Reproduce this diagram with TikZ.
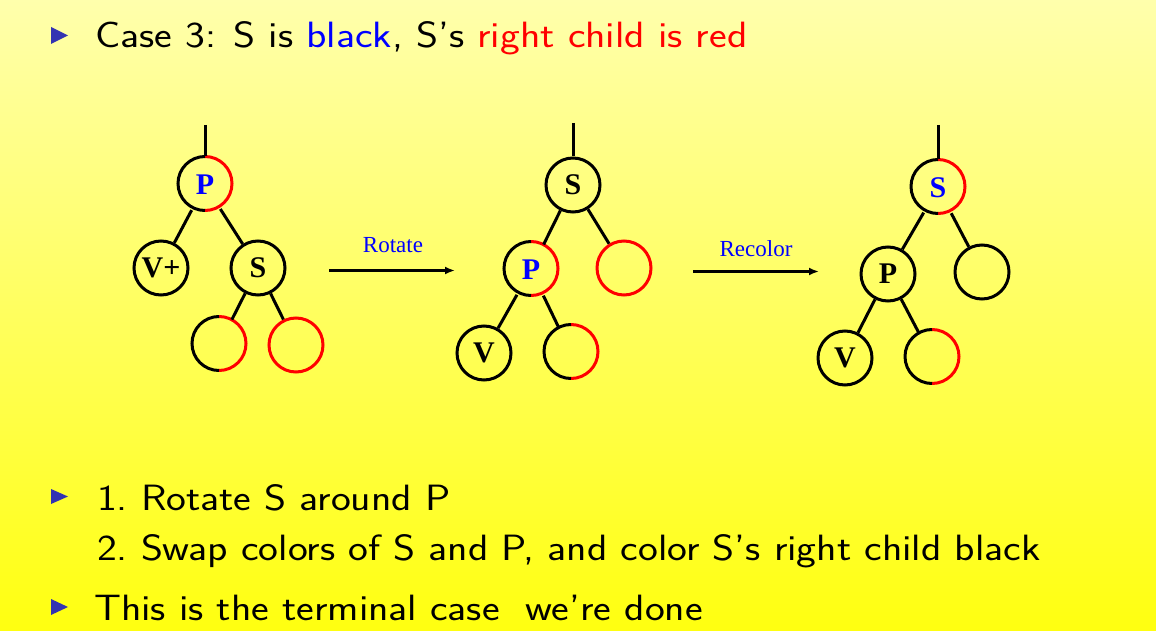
\documentclass[tikz,border=0pt]{standalone}
\usepackage{fontspec}
\usetikzlibrary{arrows.meta}
\newfontfamily\treefont{Liberation Serif}
\definecolor{bulletblue}{RGB}{51,51,178}
\definecolor{bgtop}{RGB}{255,255,172}
\definecolor{bgbottom}{RGB}{255,255,16}
\begin{document}
\begin{tikzpicture}[x=1pt,y=1pt,
  vtx/.style={circle,minimum size=54pt,inner sep=0pt,outer sep=1.5pt,line width=3pt,
    font=\treefont\fontsize{30}{30}\selectfont\bfseries},
  blk/.style={vtx,draw=black},
  rd/.style={vtx,draw=red},
  half/.style={vtx,draw=none},
  edge/.style={line width=3pt},
  step arrow/.style={line width=2.2pt,-{Latex[length=10pt,width=8pt]}},
  steplabel/.style={text=blue,font=\treefont\fontsize{23}{23}\selectfont,anchor=base},
  body/.style={anchor=base west,xscale=1.15,transform shape,
    font=\sffamily\fontsize{36.6}{36.6}\selectfont},
  bullet/.style={fill=bulletblue}]
% background
\shade[top color=bgtop,bottom color=bgbottom] (0,0) rectangle (1156,630);
\useasboundingbox (0,0) rectangle (1156,630);

% half black / half red circle outline
\newcommand\splitring[1]{%
  \draw[line width=3pt,red] (#1.north) arc[start angle=90,end angle=-90,radius=27pt];
  \draw[line width=3pt,black] (#1.north) arc[start angle=90,end angle=270,radius=27pt];}

% heading
\fill[bullet] (51,603) -- (51,586) -- (68,594.5) -- cycle;
\node[body] (head) at (91,582) {Case 3: S is \textcolor{blue}{black}, S's \textcolor{red}{right child is red}};

% tree before the rotation
\coordinate (t1top) at (205,505);
\node[half,text=blue] (t1P) at (205,445) {P};
\node[blk] (t1V) at (161,362) {V+};
\node[blk] (t1S) at (258,362) {S};
\node[half] (t1SL) at (219,285) {};
\node[rd] (t1SR) at (296,285) {};
\splitring{t1P}
\splitring{t1SL}
\draw[edge] (t1top) -- (t1P);
\draw[edge] (t1P) -- (t1V);
\draw[edge] (t1P) -- (t1S);
\draw[edge] (t1S) -- (t1SL);
\draw[edge] (t1S) -- (t1SR);

% rotate arrow
\coordinate (a1s) at (329,359.5);
\coordinate (a1e) at (455,359.5);
\draw[step arrow] (a1s) -- (a1e);
\node[steplabel] (rotlbl) at (393,377) {Rotate};

% tree after the rotation
\coordinate (t2top) at (573,507);
\node[blk] (t2S) at (573,445) {S};
\node[half,text=blue] (t2P) at (531,360) {P};
\node[rd] (t2R) at (624,362) {};
\node[blk] (t2V) at (484,277) {V};
\node[half] (t2PR) at (571,277) {};
\splitring{t2P}
\splitring{t2PR}
\draw[edge] (t2top) -- (t2S);
\draw[edge] (t2S) -- (t2P);
\draw[edge] (t2S) -- (t2R);
\draw[edge] (t2P) -- (t2V);
\draw[edge] (t2P) -- (t2PR);

% recolor arrow
\coordinate (a2s) at (693,358.5);
\coordinate (a2e) at (819,358.5);
\draw[step arrow] (a2s) -- (a2e);
\node[steplabel] (reclbl) at (756,373) {Recolor};

% tree after recoloring
\coordinate (t3top) at (938,505);
\node[half,text=blue] (t3S) at (938,442) {S};
\node[blk] (t3P) at (888,356) {P};
\node[blk] (t3R) at (982,358) {};
\node[blk] (t3V) at (845,272) {V};
\node[half] (t3PR) at (932,272) {};
\splitring{t3S}
\splitring{t3PR}
\draw[edge] (t3top) -- (t3S);
\draw[edge] (t3S) -- (t3P);
\draw[edge] (t3S) -- (t3R);
\draw[edge] (t3P) -- (t3V);
\draw[edge] (t3P) -- (t3PR);

% steps
\fill[bullet] (51,141) -- (51,126) -- (68,133.5) -- cycle;
\node[body] (stepone) at (93,120) {1.\ Rotate S around P};
\node[body] (steptwo) at (93,70) {2.\ Swap colors of S and P, and color S's right child black};
\fill[bullet] (51,31) -- (51,15) -- (68,23) -- cycle;
\node[body] (done) at (90,10) {This is the terminal case\ \ we're done};
\end{tikzpicture}
\end{document}
